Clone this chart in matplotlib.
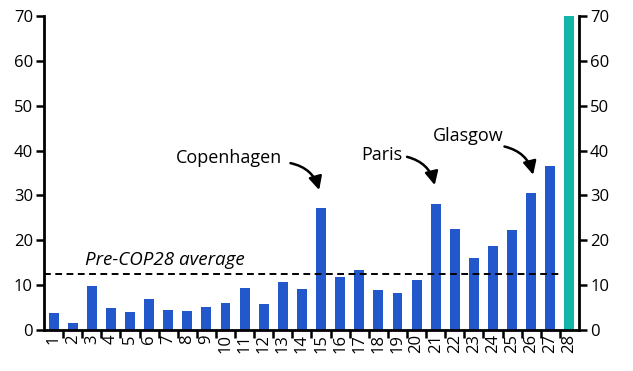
import numpy as np
import matplotlib.pyplot as plt

# Data
cops = list(range(1, 29))
values = [3.85, 1.6, 9.9, 5.0, 4.1, 7.0, 4.5, 4.3, 5.2, 6.1,
          9.4, 5.9, 10.7, 9.2, 27.2, 11.9, 13.4, 9.0, 8.3, 11.2,
          28.1, 22.5, 16.1, 18.8, 22.3, 30.5, 36.5, 70.0]
pre_avg = 12.5

# annotation: label, text position, arrow start, arrow tip (data coords)
notes = ["Copenhagen", "Paris", "Glasgow"]
note_text = [(10.2, 38.3), (18.2, 39.0), (22.7, 43.2)]
note_start = [(13.4, 37.2), (19.5, 38.6), (24.6, 40.9)]
note_tip = [(14.9, 31.2), (20.95, 32.3), (26.1, 34.6)]

blue = '#2258CC'
teal = '#12B5A8'
colors = [blue] * 27 + [teal]

plt.rcParams['font.family'] = ['Open Sans', 'DejaVu Sans']
plt.rcParams['font.size'] = 12

fig = plt.figure(figsize=(6.33, 3.71), dpi=100)
ax = fig.add_axes([0.0695, 0.1105, 0.8452, 0.8464])

ax.bar(cops, values, width=0.52, color=colors, zorder=2)

# dashed average line
ax.plot([0.5, 27.45], [pre_avg, pre_avg], color='black', lw=1.4,
        ls=(0, (3.5, 2.3)), zorder=3)
ax.text(2.65, pre_avg + 1.0, 'Pre-COP28 average', style='italic',
        fontsize=13.5, ha='left', va='bottom')

ax.set_xlim(0.5, 28.5)
ax.set_ylim(0, 70)
ax.set_yticks(np.arange(0, 71, 10))

ax.set_xticks(cops)
ax.set_xticklabels([str(c) for c in cops], rotation=90)
ax.set_xticks(np.arange(1.5, 28.5, 1), minor=True)
ax.tick_params(axis='x', which='major', length=0, pad=3)
ax.tick_params(axis='x', which='minor', length=6, width=1.8, direction='out')
ax.tick_params(axis='y', length=6, width=1.8, direction='out', pad=2)

for s in ['top', 'right']:
    ax.spines[s].set_visible(False)
for s in ['left', 'bottom']:
    ax.spines[s].set_linewidth(2)

ax2 = ax.twinx()
ax2.set_ylim(0, 70)
ax2.set_yticks(np.arange(0, 71, 10))
ax2.tick_params(axis='y', length=6, width=1.8, direction='out', pad=2)
for s in ['top', 'left', 'bottom']:
    ax2.spines[s].set_visible(False)
ax2.spines['right'].set_linewidth(2)

# labels and curved arrows
for name, tpos, start, tip in zip(notes, note_text, note_start, note_tip):
    ax.text(tpos[0], tpos[1], name, ha='center', va='center', fontsize=13)
    ax.annotate('', xy=tip, xytext=start,
                arrowprops=dict(arrowstyle='-|>', color='black', lw=1.8,
                                mutation_scale=20,
                                connectionstyle='arc3,rad=-0.3',
                                shrinkA=0, shrinkB=0))

fig.savefig('out.png', dpi=100)
